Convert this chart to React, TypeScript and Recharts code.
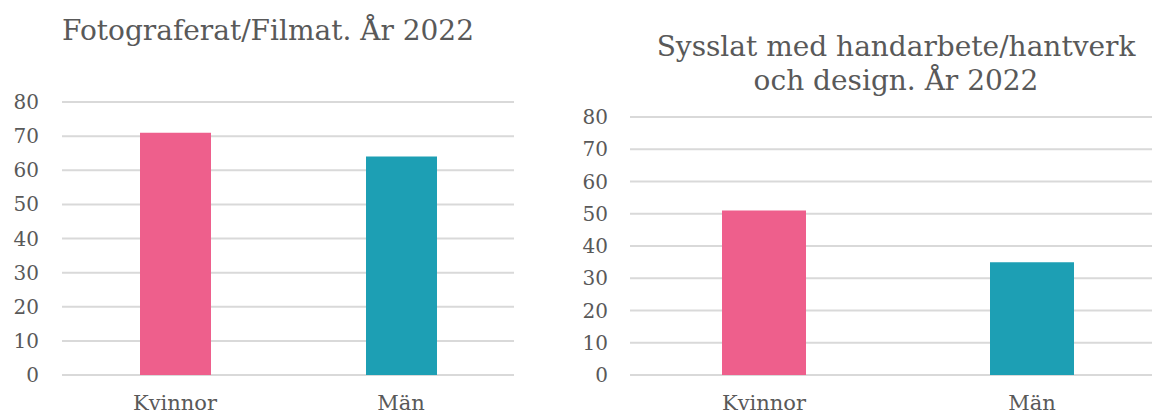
import { Bar, BarChart, CartesianGrid, Cell, XAxis, YAxis } from "recharts";

const categories = ["Kvinnor", "Män"];
const photoValues = [71, 64];
const craftValues = [51, 35];
const barColors = ["#EE5F8C", "#1D9FB4"];
const yTicks = [0, 10, 20, 30, 40, 50, 60, 70, 80];

const FONT = "'DejaVu Serif', 'Liberation Serif', serif";
const INK = "#595959";

const photoData = categories.map((c, i) => ({ name: c, value: photoValues[i] }));
const craftData = categories.map((c, i) => ({ name: c, value: craftValues[i] }));

interface PanelProps {
  data: { name: string; value: number }[];
  width: number;
  top: number;
  right: number;
  yWidth: number;
  barSize: number;
  tickMargin: number;
}

function Panel({ data, width, top, right, yWidth, barSize, tickMargin }: PanelProps) {
  return (
    <BarChart
      width={width}
      height={414}
      data={data}
      margin={{ top, right, bottom: 9, left: 0 }}
    >
      <CartesianGrid vertical={false} stroke="#D9D9D9" strokeWidth={2} />
      <XAxis
        dataKey="name"
        axisLine={false}
        tickLine={false}
        height={30}
        tickMargin={14}
        tick={{ fill: INK, fontSize: 21, fontFamily: FONT }}
      />
      <YAxis
        domain={[0, 80]}
        ticks={yTicks}
        width={yWidth}
        axisLine={false}
        tickLine={false}
        tickMargin={tickMargin}
        interval={0}
        tick={{ fill: INK, fontSize: 20, fontFamily: FONT }}
      />
      <Bar dataKey="value" barSize={barSize} isAnimationActive={false}>
        {data.map((d, i) => (
          <Cell key={d.name} fill={barColors[i]} />
        ))}
      </Bar>
    </BarChart>
  );
}

export default function App() {
  return (
    <div
      style={{
        position: "absolute",
        left: 0,
        top: 0,
        width: 1152,
        height: 414,
        overflow: "hidden",
        background: "#fff",
        fontFamily: FONT,
        color: INK,
      }}
    >
      <div style={{ position: "absolute", left: 0, top: 0 }}>
        <Panel data={photoData} width={576} top={102} right={62} yWidth={62} barSize={71} tickMargin={17} />
      </div>
      <div style={{ position: "absolute", left: 576, top: 0 }}>
        <Panel data={craftData} width={600} top={117} right={10} yWidth={54} barSize={84} tickMargin={16} />
      </div>
      <div
        style={{
          position: "absolute",
          left: 48,
          width: 440,
          top: 14,
          fontSize: 28,
          lineHeight: "34px",
          textAlign: "center",
        }}
      >
        Fotograferat/Filmat. År 2022
      </div>
      <div
        style={{
          position: "absolute",
          left: 636,
          width: 520,
          top: 30,
          fontSize: 28,
          lineHeight: "34px",
          textAlign: "center",
        }}
      >
        Sysslat med handarbete/hantverk
        <br />
        och design. År 2022
      </div>
    </div>
  );
}
